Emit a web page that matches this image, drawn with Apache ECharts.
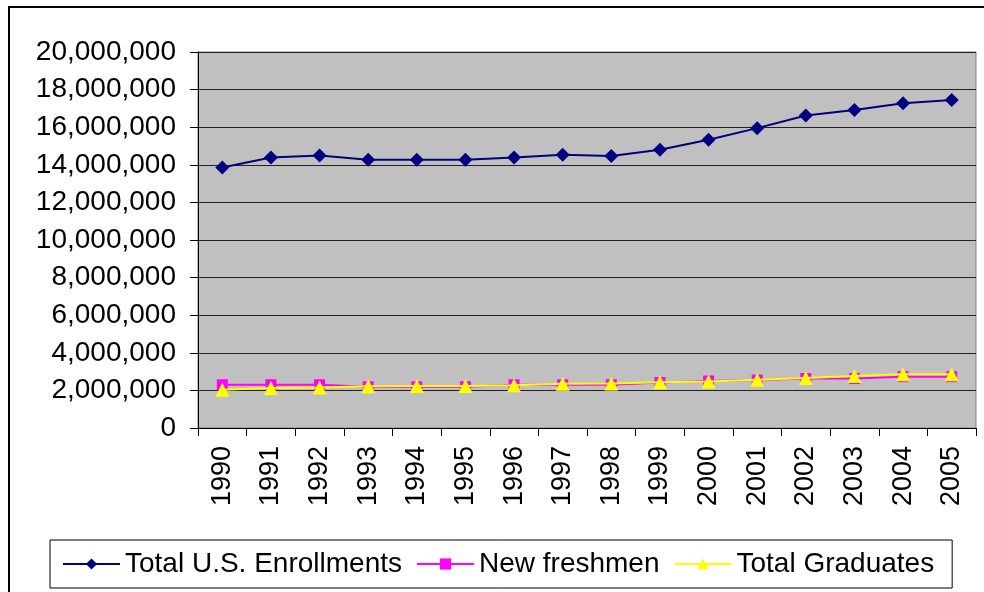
<!DOCTYPE html>
<html>
<head>
<meta charset="utf-8">
<script src="https://cdn.jsdelivr.net/npm/echarts@6/dist/echarts.min.js"></script>
<style>
  html, body { margin: 0; padding: 0; background: #fff; }
  #main { width: 984px; height: 592px; }
</style>
</head>
<body>
<div id="main"></div>
<script>
// years on the x axis
const years = ['1990', '1991', '1992', '1993', '1994', '1995', '1996', '1997',
  '1998', '1999', '2000', '2001', '2002', '2003', '2004', '2005']

// values
const totalEnrollments = [13860000, 14390000, 14500000, 14270000, 14270000, 14270000, 14390000, 14540000,
  14470000, 14800000, 15330000, 15950000, 16620000, 16920000, 17280000, 17450000]
const newFreshmen = [2300000, 2300000, 2300000, 2190000, 2190000, 2190000, 2300000, 2300000,
  2300000, 2420000, 2500000, 2550000, 2630000, 2630000, 2730000, 2730000]
const totalGraduates = [2040000, 2130000, 2150000, 2220000, 2240000, 2240000, 2270000, 2350000,
  2370000, 2440000, 2480000, 2570000, 2660000, 2760000, 2860000, 2860000]

const font = 'Liberation Sans, Arial, sans-serif'

let myChart = echarts.init(document.getElementById('main'))
myChart.setOption({
  animation: false,
  backgroundColor: '#fff',
  textStyle: { fontFamily: font },
  graphic: [
    {
      type: 'rect',
      shape: { x: 9, y: 7, width: 1000, height: 620 },
      style: { fill: 'none', stroke: '#000', lineWidth: 2 },
      z: 100
    }
  ],
  grid: {
    left: 198, right: 8, top: 52, bottom: 164,
    show: true,
    backgroundColor: '#c0c0c0',
    borderColor: '#808080',
    borderWidth: 1
  },
  legend: {
    bottom: 4,
    left: 50,
    backgroundColor: '#fff',
    borderColor: '#000',
    borderWidth: 1,
    padding: [10, 18, 10, 12],
    itemWidth: 57,
    itemHeight: 14,
    itemGap: 14,
    textStyle: { fontSize: 28, color: '#000', fontFamily: font },
    data: ['Total U.S. Enrollments', 'New freshmen', 'Total Graduates']
  },
  xAxis: {
    type: 'category',
    data: years,
    boundaryGap: true,
    axisLine: { lineStyle: { color: '#000', width: 1 } },
    axisTick: { show: true, length: 8, lineStyle: { color: '#000' } },
    axisLabel: { rotate: 90, margin: 18, fontSize: 27, color: '#000', fontFamily: font },
    splitLine: { show: false }
  },
  yAxis: {
    type: 'value',
    min: 0,
    max: 20000000,
    interval: 2000000,
    axisLine: { show: true, lineStyle: { color: '#000', width: 1 } },
    axisTick: { show: true, length: 8, lineStyle: { color: '#000' } },
    axisLabel: {
      margin: 22, fontSize: 28, color: '#000', fontFamily: font,
      formatter: v => v.toLocaleString('en-US')
    },
    splitLine: { show: true, lineStyle: { color: '#222', width: 1 } }
  },
  series: [
    {
      name: 'Total U.S. Enrollments',
      type: 'line',
      data: totalEnrollments,
      color: '#000080',
      symbol: 'diamond',
      symbolSize: 14,
      lineStyle: { width: 2 },
      z: 2
    },
    {
      name: 'New freshmen',
      type: 'line',
      data: newFreshmen,
      color: '#ff00ff',
      symbol: 'rect',
      symbolSize: 11,
      lineStyle: { width: 2 },
      z: 3
    },
    {
      name: 'Total Graduates',
      type: 'line',
      data: totalGraduates,
      color: '#ffff00',
      symbol: 'triangle',
      symbolSize: 14,
      lineStyle: { width: 2 },
      z: 4
    }
  ]
})
</script>
</body>
</html>
